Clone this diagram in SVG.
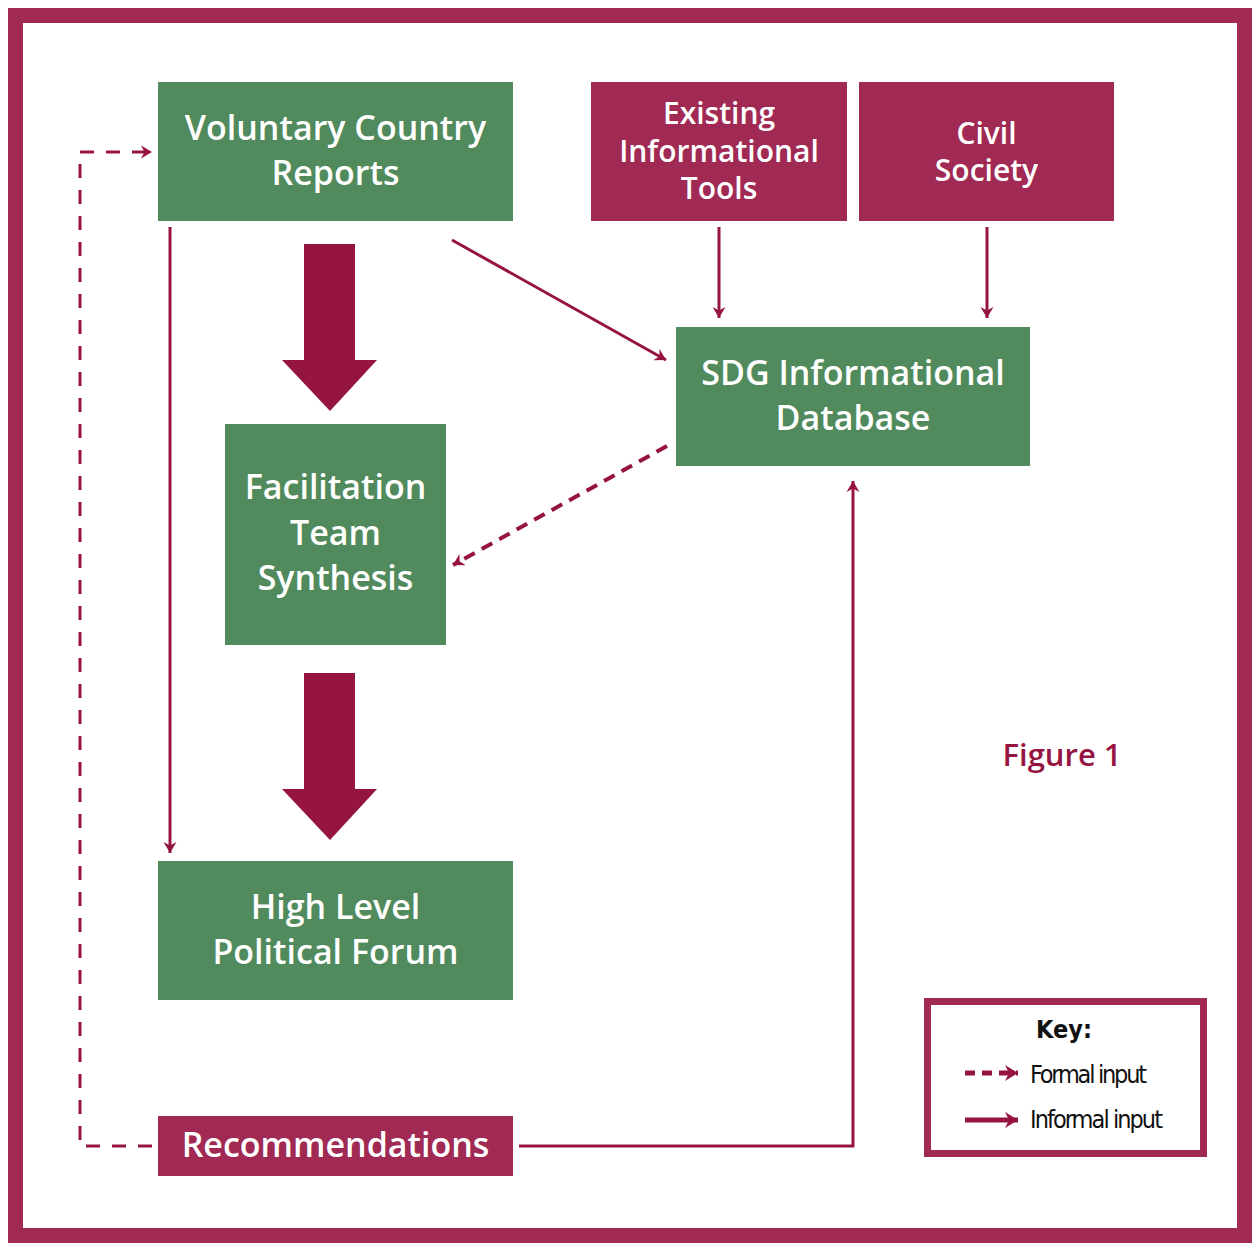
<svg xmlns="http://www.w3.org/2000/svg" width="1260" height="1245" viewBox="0 0 1260 1245">
<defs>
<style>
.frame{fill:#ffffff;stroke:#A02A54;stroke-width:15}
.green{fill:#518A5C}
.maroon{fill:#A02A54}
.lbl{font-family:"Open Sans","DejaVu Sans",sans-serif;font-weight:600;fill:#ffffff;text-anchor:middle}
.big{font-size:34px}
.mid{font-size:30px}
.conn{fill:none;stroke:#961441;stroke-width:3}
.dash{fill:none;stroke:#961441;stroke-width:3;stroke-dasharray:14 12}
.dash2{fill:none;stroke:#961441;stroke-width:4;stroke-dasharray:12 8}
.block{fill:#961441}
.key{font-family:"DejaVu Sans Condensed","DejaVu Sans",sans-serif;fill:#111111}
</style>
<marker id="ah" markerUnits="userSpaceOnUse" markerWidth="12" markerHeight="14" refX="11" refY="7" orient="auto" viewBox="0 0 12 14">
<path d="M0,0.5 L11,7 L0,13.5 L3.5,7 Z" fill="#961441"/>
</marker>
<marker id="ahk" markerUnits="userSpaceOnUse" markerWidth="14" markerHeight="16" refX="13" refY="8" orient="auto" viewBox="0 0 14 16">
<path d="M0,0 L13,8 L0,16 L4,8 Z" fill="#961441"/>
</marker>
</defs>
<rect class="frame" x="15.5" y="15.5" width="1229" height="1220"/>

<g id="connectors">
<path class="conn" d="M170,227 L170,853" marker-end="url(#ah)"/>
<path class="conn" d="M452,240 L666,360" marker-end="url(#ah)"/>
<path class="conn" d="M719,227 L719,318" marker-end="url(#ah)"/>
<path class="conn" d="M987,227 L987,318" marker-end="url(#ah)"/>
<path class="dash2" d="M667,446 L453,565" marker-end="url(#ah)"/>
<path class="conn" d="M519,1146 L853,1146 L853,481" marker-end="url(#ah)"/>
<path class="dash" d="M152,1146 L80,1146 L80,152 L152,152" marker-end="url(#ah)"/>
<path class="block" d="M304,244 L355,244 L355,360 L377,360 L330,411 L282,360 L304,360 Z"/>
<path class="block" d="M304,673 L355,673 L355,789 L377,789 L330,840 L282,789 L304,789 Z"/>
</g>

<g id="node-vcr">
<rect class="green" x="158" y="82" width="355" height="139"/>
<text class="lbl big" x="335.5" y="140">Voluntary Country</text>
<text class="lbl big" x="335.5" y="185">Reports</text>
</g>
<g id="node-tools">
<rect class="maroon" x="591" y="82" width="256" height="139"/>
<text class="lbl mid" x="719" y="124">Existing</text>
<text class="lbl mid" x="719" y="162">Informational</text>
<text class="lbl mid" x="719" y="199">Tools</text>
</g>
<g id="node-civil">
<rect class="maroon" x="859" y="82" width="255" height="139"/>
<text class="lbl mid" x="986.5" y="144">Civil</text>
<text class="lbl mid" x="986.5" y="181">Society</text>
</g>
<g id="node-db">
<rect class="green" x="676" y="327" width="354" height="139"/>
<text class="lbl big" x="853" y="385">SDG Informational</text>
<text class="lbl big" x="853" y="430">Database</text>
</g>
<g id="node-fts">
<rect class="green" x="225" y="424" width="221" height="221"/>
<text class="lbl big" x="335.5" y="499">Facilitation</text>
<text class="lbl big" x="335.5" y="545">Team</text>
<text class="lbl big" x="335.5" y="590">Synthesis</text>
</g>
<g id="node-hlpf">
<rect class="green" x="158" y="861" width="355" height="139"/>
<text class="lbl big" x="335.5" y="919">High Level</text>
<text class="lbl big" x="335.5" y="964">Political Forum</text>
</g>
<g id="node-rec">
<rect class="maroon" x="158" y="1116" width="355" height="60"/>
<text class="lbl big" x="335.5" y="1157">Recommendations</text>
</g>

<g id="figure-label">
<text x="1062" y="766" style="font-family:'Open Sans','DejaVu Sans',sans-serif;font-weight:600;font-size:31px;fill:#961441;text-anchor:middle">Figure 1</text>
</g>

<g id="key">
<rect x="927.5" y="1001.5" width="276" height="152" fill="#ffffff" stroke="#A02A54" stroke-width="7"/>
<text class="key" x="1064" y="1038" style="font-size:25px;font-weight:bold;text-anchor:middle">Key:</text>
<path d="M965,1073 L1018,1073" fill="none" stroke="#961441" stroke-width="5" stroke-dasharray="10 7" marker-end="url(#ahk)"/>
<text class="key" x="1030" y="1083" style="font-size:25px" textLength="117">Formal input</text>
<path d="M965,1120 L1018,1120" fill="none" stroke="#961441" stroke-width="5" marker-end="url(#ahk)"/>
<text class="key" x="1030" y="1128" style="font-size:25px" textLength="133">Informal input</text>
</g>
</svg>
